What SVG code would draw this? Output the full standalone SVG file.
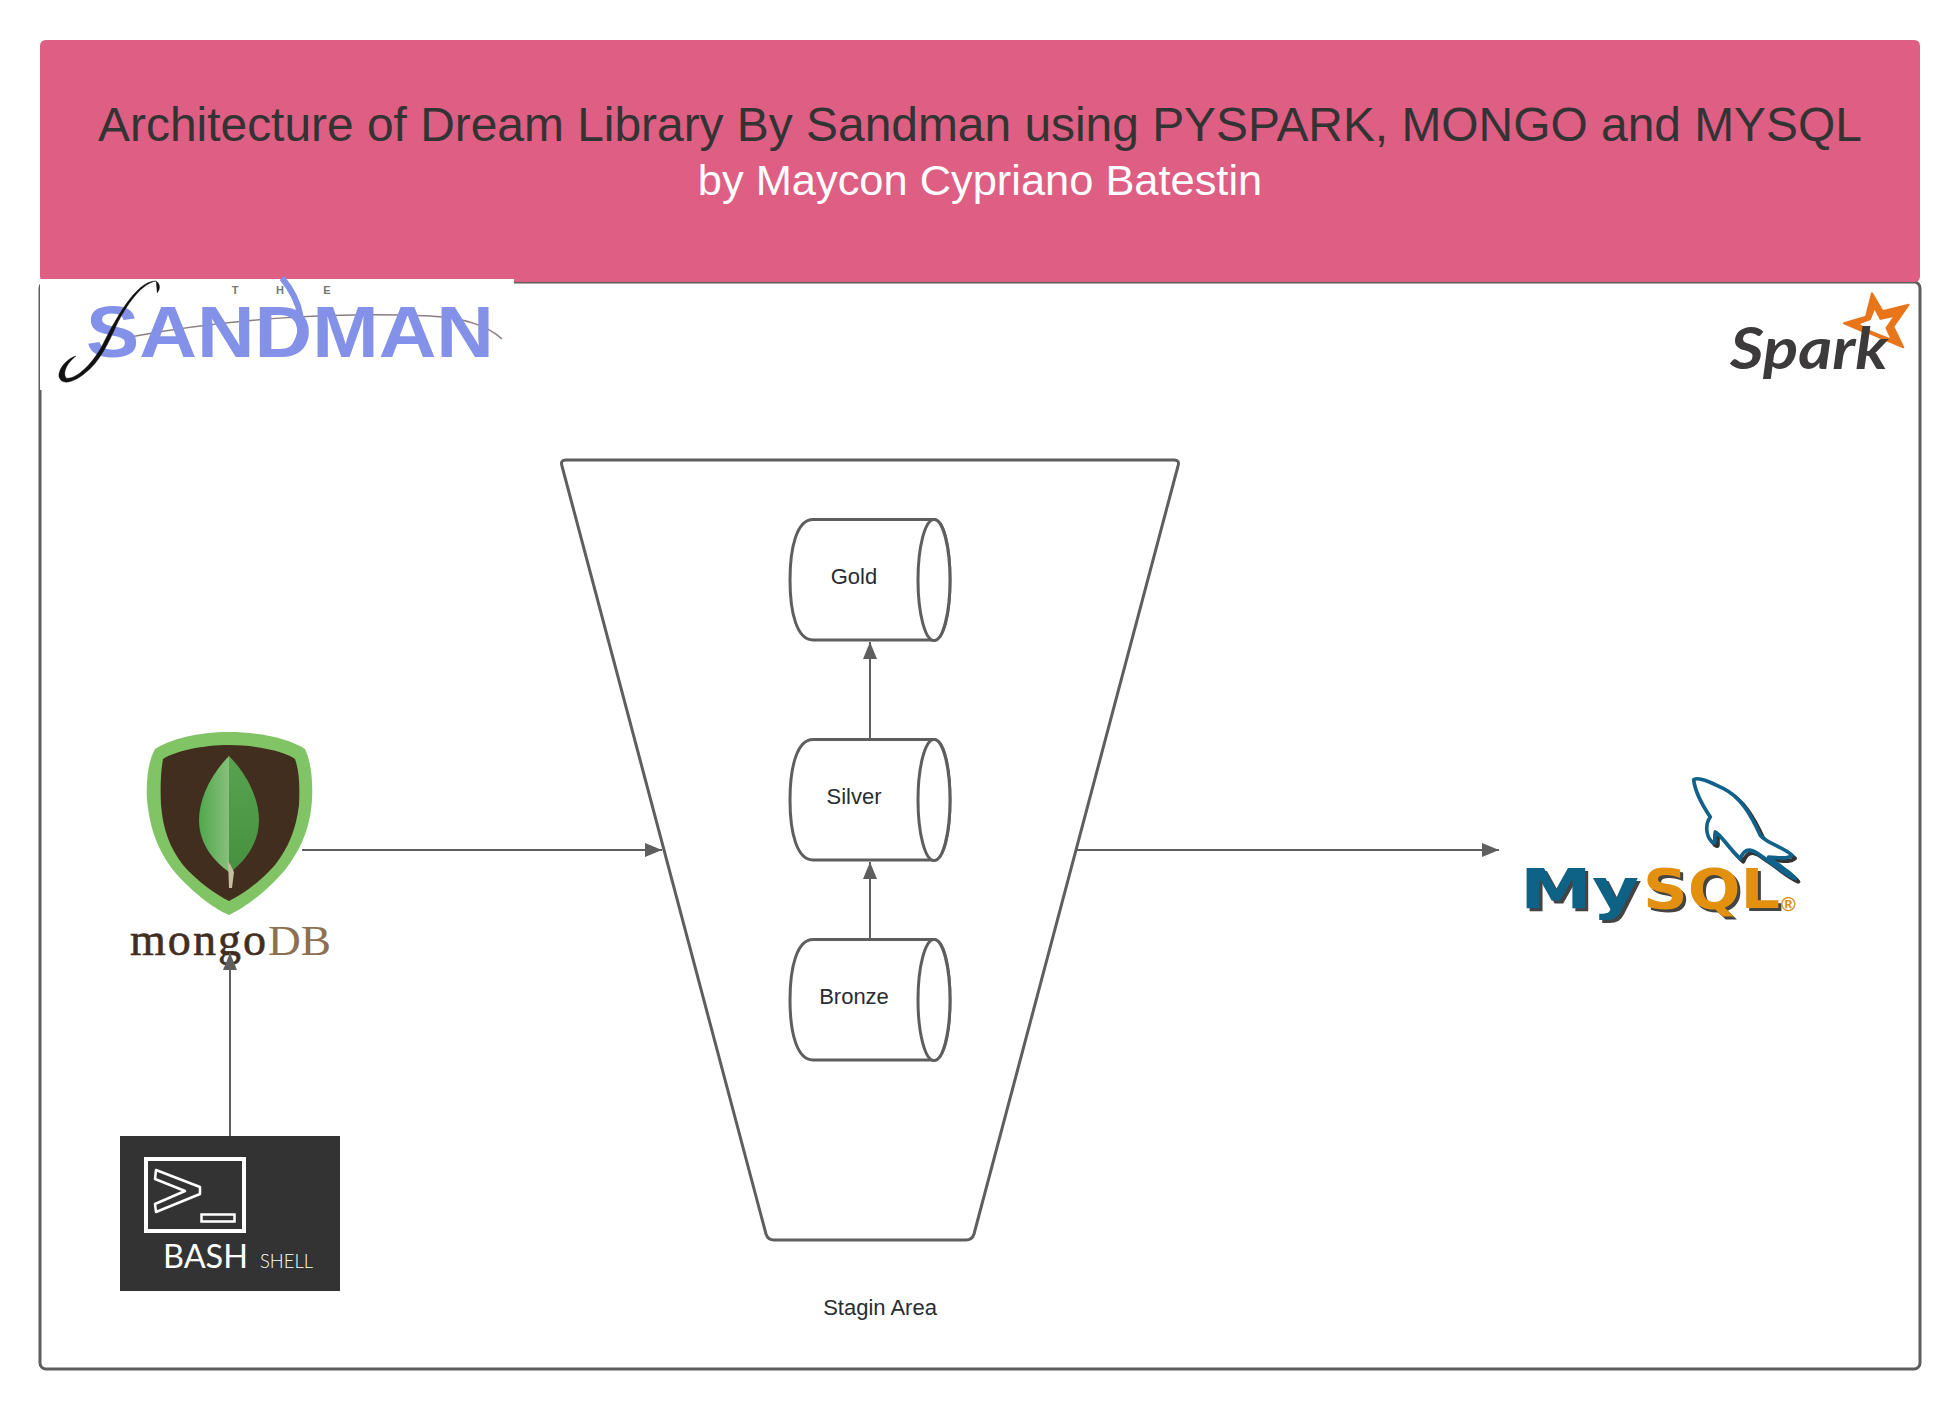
<svg xmlns="http://www.w3.org/2000/svg" width="1960" height="1411" viewBox="0 0 1960 1411">
<style>
text{font-family:"Liberation Sans",Arial,sans-serif}
.s{fill:#fff;stroke:#5e5e5e;stroke-width:3}
.l{fill:#282c33;font-size:22px;text-anchor:middle}
.c{fill:none;stroke:#5e5e5e;stroke-width:2}
</style>
<defs>
<marker id="a" markerUnits="userSpaceOnUse" markerWidth="18" markerHeight="14" refX="17" refY="7" orient="auto"><path d="M0 0L17 7L0 14Z" fill="#5e5e5e"/></marker>
<linearGradient id="lf1" x1="0" y1="0" x2="1" y2="0"><stop offset="0" stop-color="#4fa84c"/><stop offset="1" stop-color="#88bf7c"/></linearGradient>
<linearGradient id="lf2" x1="0" y1="0" x2="0" y2="1"><stop offset="0" stop-color="#58a352"/><stop offset="1" stop-color="#46913f"/></linearGradient>
<symbol id="cyl" overflow="visible"><path class="s" d="M24 .5H145C155 .5 161 28 161 61C161 94 155 121 145 121H24C8 121 1 94 1 61C1 28 8 .5 24 .5Z"/><ellipse class="s" cx="145" cy="61" rx="16" ry="60.500"/></symbol>
</defs>
<rect width="1960" height="1411" fill="#fff"/>
<g id="frame"><rect class="s" x="40" y="282" width="1880" height="1087" rx="6"/></g>
<g id="header">
<path d="M46 40H1914Q1920 40 1920 46V276Q1920 282 1914 282H46Q40 282 40 276V46Q40 40 46 40Z" fill="#de5e84"/>
<text x="980" y="141" font-size="47.900" fill="#333" text-anchor="middle">Architecture of Dream Library By Sandman using PYSPARK, MONGO and MYSQL</text>
<text x="980" y="195" font-size="43.400" fill="#fff" text-anchor="middle">by Maycon Cypriano Batestin</text>
</g>
<g id="sandman-logo">
<rect x="40" y="279" width="474" height="111" fill="#fff"/>
<path d="M130 337C230 318 340 312 430 316C470 318 490 328 502 339" fill="none" stroke="#8b7f80" stroke-width="1.500"/>
<text x="86" y="357" font-size="72" font-weight="700" fill="#8491e8" textLength="408" lengthAdjust="spacingAndGlyphs">SANDMAN</text>
<path d="M282 278C300 300 310 330 290 352" fill="none" stroke="#8491e8" stroke-width="6"/>
<path d="M156 281C142 284 130 300 118 322C108 344 100 362 84 374C74 382 62 386 59 377C58 368 68 358 76 356C68 362 62 372 66 378C76 380 92 364 102 346C114 322 136 280 156 281C161 284 160 290 157 293" fill="#111" stroke="#111" stroke-width=".4"/>
<text x="235" y="294" font-size="11" font-weight="700" fill="#777" text-anchor="middle">T</text>
<text x="280" y="294" font-size="11" font-weight="700" fill="#777" text-anchor="middle">H</text>
<text x="327" y="294" font-size="11" font-weight="700" fill="#777" text-anchor="middle">E</text>
</g>
<g id="spark-logo">
<path transform="translate(1700 270) scale(.3333)" d="M516 70L548 124L626 104L580 170L610 232L545 205L510 190L490 185L432 160L498 140Z" fill="#e8751a" stroke="#e8751a" stroke-width="6" stroke-linejoin="round"/>
<path transform="translate(1700 270) scale(.3333)" d="M524 120L540 150L578 142L556 174L570 204L532 190L504 178L480 162L512 150Z" fill="#fff"/>
<text x="1730" y="369" font-size="57" font-weight="700" font-style="italic" fill="#3c3a3a" style="font-family:Lato,sans-serif" textLength="158" lengthAdjust="spacingAndGlyphs">Spark</text>
</g>
<g id="funnel"><path class="s" d="M566 460H1174Q1180 460 1178 466L974 1234Q972 1240 966 1240H774Q768 1240 766 1234L562 466Q560 460 566 460Z"/></g>
<g id="gold"><use href="#cyl" x="789" y="519"/><text class="l" x="854" y="584">Gold</text></g>
<g id="silver"><use href="#cyl" x="789" y="739"/><text class="l" x="854" y="804">Silver</text></g>
<g id="bronze"><use href="#cyl" x="789" y="939"/><text class="l" x="854" y="1004">Bronze</text></g>
<g id="stagin-label"><text class="l" x="880" y="1315">Stagin Area</text></g>
<g id="mongodb-logo">
<path d="M229 732C260 732 290 739 305 749C311 762 313 780 312 800C310 830 300 850 285 870C268 890 245 908 229 915C212 908 190 890 173 870C158 850 150 830 147 800C146 780 148 762 155 749C170 739 198 732 229 732Z" fill="#81c465"/>
<path d="M229 745C255 745 285 751 295 759C299 770 300 785 299 805C296 830 288 848 275 865C260 882 243 894 229 901C215 894 198 882 183 865C170 848 163 830 161 805C160 785 161 770 163 759C175 751 203 745 229 745Z" fill="#412e1f"/>
<path d="M229 756C210 775 199 800 199 820C199 845 215 862 229 872Z" fill="url(#lf1)"/>
<path d="M229 756C248 775 259 800 259 820C259 845 243 862 231 872L229 860Z" fill="url(#lf2)"/>
<path d="M228 860L234 872L232 888H229Z" fill="#c5bea0"/>
<text x="130" y="955" font-size="46" fill="#412e1f" stroke="#412e1f" stroke-width=".6" style="font-family:'Liberation Serif',serif" textLength="136">mongo</text>
<text x="268" y="955" font-size="43" fill="#8c7050" style="font-family:'Liberation Serif',serif" textLength="63" lengthAdjust="spacingAndGlyphs">DB</text>
</g>
<g id="bash-logo">
<rect x="120" y="1136" width="220" height="155" fill="#333"/>
<rect x="146" y="1159" width="98" height="72" fill="none" stroke="#fff" stroke-width="4"/>
<path d="M156 1170L200 1187V1194L156 1212L155 1204L185 1191L155 1179Z" fill="none" stroke="#fff" stroke-width="2.500" stroke-linejoin="round"/>
<rect x="201.500" y="1214.500" width="33" height="7" fill="none" stroke="#fff" stroke-width="2.500"/>
<text x="163" y="1268" font-size="32" fill="#fff" style="font-family:Lato,sans-serif" textLength="85" lengthAdjust="spacingAndGlyphs">BASH</text>
<text x="260" y="1268" font-size="19" fill="#fff" style="font-family:Lato,sans-serif;font-weight:300" textLength="53" lengthAdjust="spacingAndGlyphs">SHELL</text>
</g>
<g id="mysql-logo">
<path transform="translate(1500 760) scale(.3333)" d="M585 65C600 55 640 75 680 95C730 120 760 170 790 235C810 260 860 270 885 295C870 310 840 300 815 300C850 330 880 345 895 365C860 350 830 320 790 295C770 280 745 265 730 305C700 280 670 230 655 225C650 250 660 265 645 255C625 235 625 200 640 180C620 150 590 110 585 65Z" fill="none" stroke="#333" stroke-width="12" stroke-linejoin="round"/>
<path transform="translate(1497 757) scale(.3333)" d="M590 68C605 58 640 75 680 95C730 120 760 170 790 235C810 260 860 270 885 295C870 310 840 300 815 300C850 330 880 345 895 365C860 350 830 320 790 295C770 280 745 265 730 305C700 280 670 230 655 225C650 250 660 265 645 255C625 235 625 200 640 180C620 150 595 110 590 68Z" fill="#fff" stroke="#11628a" stroke-width="11" stroke-linejoin="round"/>
<text x="1523" y="911" font-size="56" font-weight="700" fill="#444" style="font-family:'DejaVu Sans',sans-serif" textLength="119" lengthAdjust="spacingAndGlyphs">My</text>
<text x="1520" y="908" font-size="56" font-weight="700" fill="#0e6286" style="font-family:'DejaVu Sans',sans-serif" textLength="119" lengthAdjust="spacingAndGlyphs">My</text>
<text x="1646" y="911" font-size="56" font-weight="700" fill="#444" style="font-family:'DejaVu Sans',sans-serif" textLength="137" lengthAdjust="spacingAndGlyphs">SQL</text>
<text x="1643" y="908" font-size="56" font-weight="700" fill="#e3900f" style="font-family:'DejaVu Sans',sans-serif" textLength="137" lengthAdjust="spacingAndGlyphs">SQL</text>
<text x="1781" y="911" font-size="20" font-weight="700" fill="#d98a10">®</text>
</g>
<g id="connectors">
<path class="c" d="M302 850H662" marker-end="url(#a)"/>
<path class="c" d="M1077 850H1499" marker-end="url(#a)"/>
<path class="c" d="M230 1136V953" marker-end="url(#a)"/>
<path class="c" d="M870 739V642" marker-end="url(#a)"/>
<path class="c" d="M870 939V862" marker-end="url(#a)"/>
</g>
</svg>
